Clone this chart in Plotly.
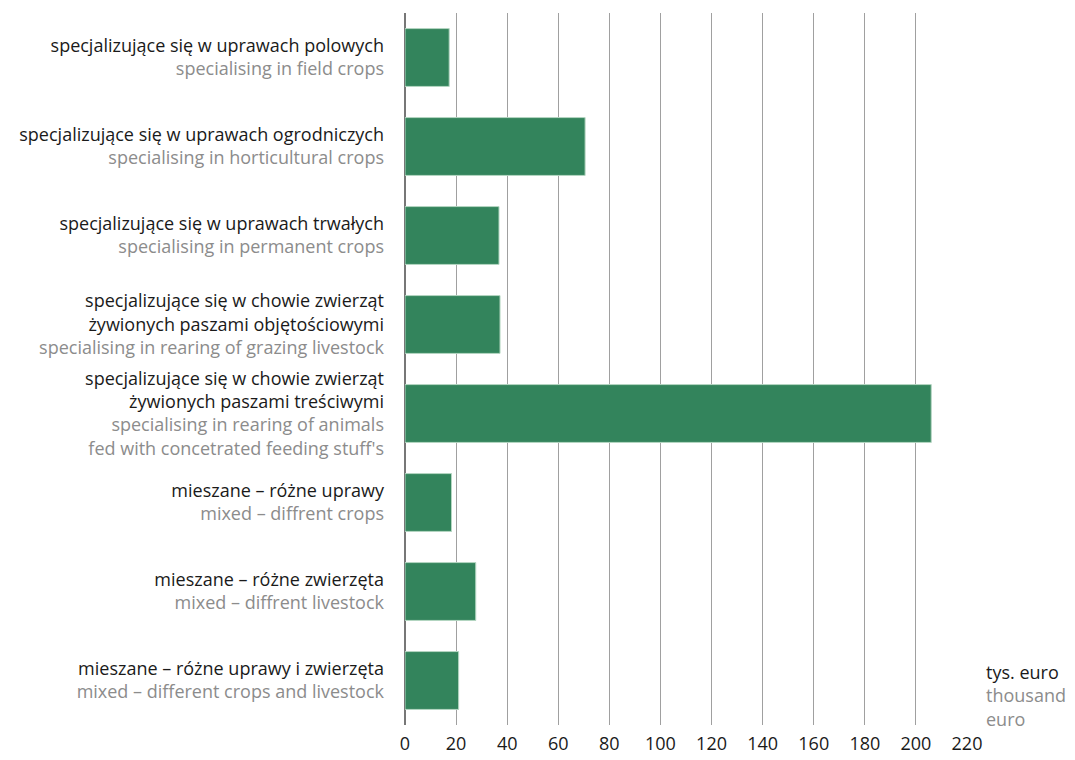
import plotly.graph_objects as go

labels_pl = [
    "specjalizujące się w uprawach polowych",
    "specjalizujące się w uprawach ogrodniczych",
    "specjalizujące się w uprawach trwałych",
    "specjalizujące się w chowie zwierząt<br>żywionych paszami objętościowymi",
    "specjalizujące się w chowie zwierząt<br>żywionych paszami treściwymi",
    "mieszane – różne uprawy",
    "mieszane – różne zwierzęta",
    "mieszane – różne uprawy i zwierzęta",
]
labels_en = [
    "specialising in field crops",
    "specialising in horticultural crops",
    "specialising in permanent crops",
    "specialising in rearing of grazing livestock",
    "specialising in rearing of animals<br>fed with concetrated feeding stuff's",
    "mixed – diffrent crops",
    "mixed – diffrent livestock",
    "mixed – different crops and livestock",
]
values = [17.3, 70.5, 36.8, 37.2, 206.0, 18.2, 27.7, 21.0]
x_ticks = list(range(0, 221, 20))

GREY = "#8c8c8c"
FONT = "'Open Sans', Lato, sans-serif"

def make_label(pl, en):
    en_html = "<br>".join(f"<span style='color:{GREY}'>{p}</span>" for p in en.split("<br>"))
    return f"{pl}<br>{en_html}"

cats = [f"c{i}" for i in range(len(values))]
ticktext = [make_label(p, e) for p, e in zip(labels_pl, labels_en)]

fig = go.Figure()
fig.add_trace(go.Bar(
    y=cats, x=values, orientation="h",
    marker=dict(color="#33845C", line=dict(color="#b5d6c2", width=1)),
    hoverinfo="x",
))

fig.update_layout(
    width=1067, height=752,
    margin=dict(l=397, r=108, t=5, b=31),
    plot_bgcolor="white", paper_bgcolor="white",
    bargap=0.35,
    showlegend=False,
    font=dict(family=FONT, size=18, color="#1a1a1a"),
)
fig.update_xaxes(
    range=[0, 220], tickvals=x_ticks, ticktext=[str(v) for v in x_ticks],
    showgrid=True, gridcolor="#a0a0a0", gridwidth=1.3,
    zeroline=True, zerolinecolor="#777777", zerolinewidth=1.5,
    showline=False, ticks="", ticklabelstandoff=6,
    tickfont=dict(size=18, color="#1a1a1a"),
)
fig.update_yaxes(
    autorange="reversed", tickvals=cats, ticktext=ticktext,
    showgrid=False, zeroline=False, showline=False, ticks="",
    ticklabelstandoff=20, tickfont=dict(size=18, color="#1a1a1a"),
)
fig.add_annotation(
    xref="paper", yref="paper", x=1.03, y=0.094, xanchor="left", yanchor="top",
    align="left", showarrow=False,
    text=f"tys. euro<br><span style='color:{GREY}'>thousand</span><br><span style='color:{GREY}'>euro</span>",
    font=dict(family=FONT, size=18, color="#1a1a1a"),
)
fig.write_html("out.html")
